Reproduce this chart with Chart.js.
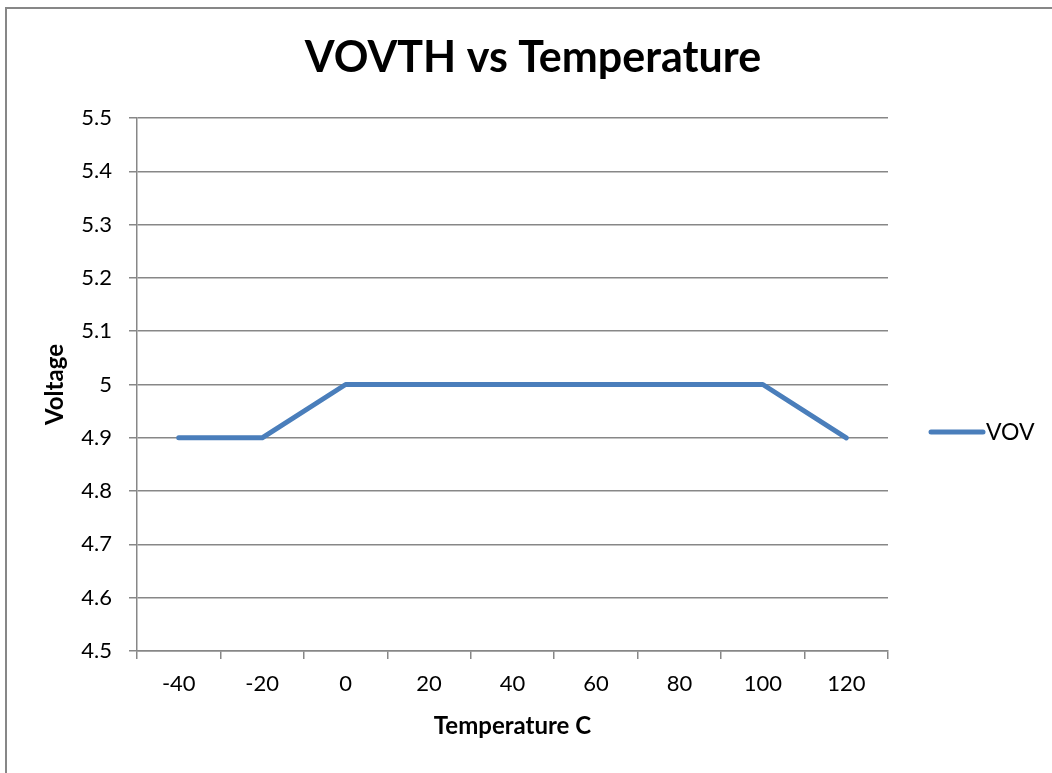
<!DOCTYPE html>
<html>
<head>
<meta charset="utf-8">
<script src="https://cdn.jsdelivr.net/npm/chart.js@4.4.1/dist/chart.umd.min.js"></script>
<style>
  html, body { margin: 0; padding: 0; background: #fff; overflow: hidden; }
  #wrap { position: relative; width: 1052px; height: 773px; overflow: hidden; }
  #frame { position: absolute; left: 5px; top: 7px; width: 1200px; height: 900px;
           border-left: 2px solid #878787; border-top: 2px solid #878787; box-sizing: border-box; pointer-events: none; }
  canvas { position: absolute; left: 0; top: 0; }
</style>
</head>
<body>
<div id="wrap">
  <canvas id="c" width="1052" height="773"></canvas>
  <div id="frame"></div>
</div>
<script>
const chartTitle = "VOVTH vs Temperature";
const xAxisTitle = "Temperature C";
const yAxisTitle = "Voltage";
const seriesName = "VOV";
const temperatures = ["-40", "-20", "0", "20", "40", "60", "80", "100", "120"];
const vovValues = [4.9, 4.9, 5.0, 5.0, 5.0, 5.0, 5.0, 5.0, 4.9];
const yMin = 4.5, yMax = 5.5, yStep = 0.1;

const FONT = "Lato, 'Open Sans', 'Liberation Sans', sans-serif";
const GRID = "#878787";
const LINE = "#4a7ebb";

const legendPlugin = {
  id: 'sideLegend',
  afterDraw(chart) {
    const ctx = chart.ctx;
    const ds = chart.data.datasets[0];
    const y = 432;
    ctx.save();
    ctx.strokeStyle = ds.borderColor;
    ctx.lineWidth = 5;
    ctx.lineCap = 'round';
    ctx.beginPath();
    ctx.moveTo(931, y);
    ctx.lineTo(983, y);
    ctx.stroke();
    ctx.fillStyle = '#000';
    ctx.font = "23px " + FONT;
    ctx.textBaseline = 'middle';
    ctx.textAlign = 'left';
    ctx.fillText(ds.label, 986, y + 1);
    ctx.restore();
  }
};

new Chart(document.getElementById('c'), {
  type: 'line',
  data: {
    labels: temperatures,
    datasets: [{
      label: seriesName,
      data: vovValues,
      borderColor: LINE,
      backgroundColor: LINE,
      borderWidth: 5,
      borderCapStyle: 'round',
      borderJoinStyle: 'round',
      pointRadius: 0,
      tension: 0,
      fill: false
    }]
  },
  options: {
    responsive: false,
    animation: false,
    devicePixelRatio: 1,
    layout: { padding: { left: 14, right: 0, top: 0, bottom: 0 } },
    plugins: {
      legend: { display: false },
      tooltip: { enabled: false },
      title: {
        display: true,
        text: chartTitle,
        color: '#000',
        font: { family: FONT, size: 43, weight: 'bold', lineHeight: 1.2 },
        padding: { top: 32, bottom: 34.4 }
      }
    },
    scales: {
      x: {
        type: 'category',
        offset: true,
        afterFit(s) { s.height = 122; },
        grid: { display: true, offset: true, drawOnChartArea: false, drawTicks: true, tickLength: 8, color: GRID, lineWidth: 1.5 },
        border: { display: true, color: GRID, width: 1.5 },
        ticks: { color: '#000', font: { family: FONT, size: 22 }, padding: 12, maxRotation: 0, autoSkip: false },
        title: { display: true, text: xAxisTitle, color: '#000', font: { family: FONT, size: 24, weight: 'bold', lineHeight: 1.2 }, padding: { top: 0, bottom: 32 } }
      },
      y: {
        min: yMin, max: yMax,
        afterFit(s) { s.width = 123; },
        grid: { display: true, drawTicks: true, tickLength: 8, color: GRID, lineWidth: 1.5 },
        border: { display: true, color: GRID, width: 1.5 },
        ticks: {
          stepSize: yStep, color: '#000', font: { family: FONT, size: 22 }, padding: 17,
          callback: v => String(Number(v.toFixed(1)))
        },
        title: { display: true, text: yAxisTitle, color: '#000', font: { family: FONT, size: 24, weight: 'bold', lineHeight: 1.2 }, padding: { top: 27, bottom: 0 } }
      },
      legendSpace: {
        type: 'linear',
        position: 'right',
        display: true,
        afterFit(s) { s.width = 164; },
        grid: { display: false, drawOnChartArea: false, drawTicks: false },
        border: { display: false },
        ticks: { display: false },
        title: { display: false }
      }
    }
  },
  plugins: [legendPlugin]
});
</script>
</body>
</html>
